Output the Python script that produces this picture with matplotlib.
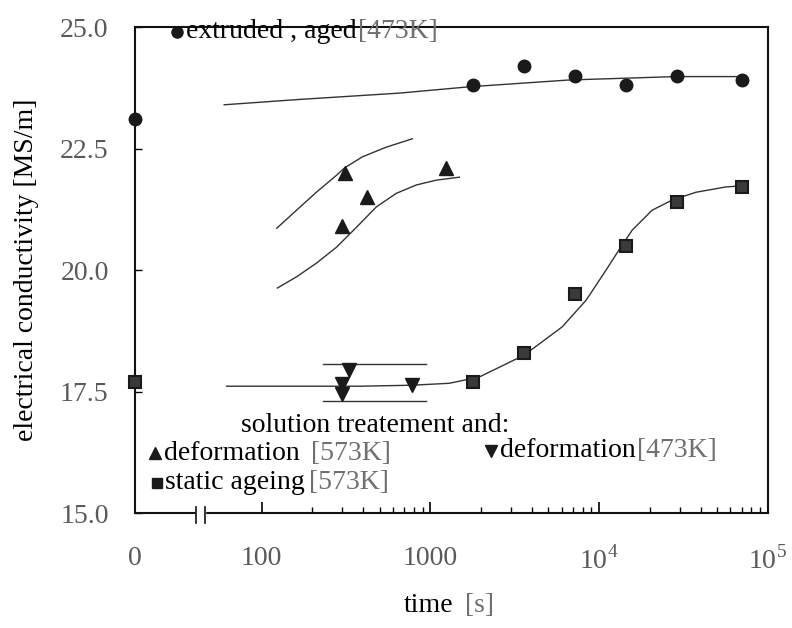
import numpy as np
import matplotlib
matplotlib.use("Agg")
import matplotlib.pyplot as plt
from matplotlib.ticker import FixedLocator, FixedFormatter

plt.rcParams['font.family'] = ['Liberation Serif', 'DejaVu Serif']
plt.rcParams['mathtext.fontset'] = 'custom'
plt.rcParams['mathtext.rm'] = 'Liberation Serif'

# ---- data (time in s, conductivity in MS/m) ----
t_ext = [0, 1800, 3600, 7200, 14400, 28800, 70000]
c_ext = [23.1, 23.8, 24.2, 24.0, 23.8, 24.0, 23.9]
fit_ext_t = [60, 168, 656, 1700, 6640, 28600, 67300]
fit_ext_c = [23.40, 23.51, 23.64, 23.77, 23.91, 23.98, 23.98]

t_static = [0, 1800, 3600, 7200, 14400, 28800, 70000]
c_static = [17.7, 17.7, 18.3, 19.5, 20.5, 21.4, 21.7]
fit_static_t = [62, 168, 380, 773, 1294, 1950, 3600, 6040, 8380, 11000,
                13100, 15700, 20600, 27100, 37500, 56400, 69200]
fit_static_c = [17.61, 17.61, 17.61, 17.63, 17.67, 17.80, 18.25, 18.83, 19.38,
                20.00, 20.41, 20.82, 21.23, 21.44, 21.60, 21.71, 21.73]

t_def573 = [310, 420, 300, 1230]
c_def573 = [22.0, 21.5, 20.9, 22.1]
upper573_t = [123, 161, 211, 278, 310, 396, 550, 782]
upper573_c = [20.86, 21.23, 21.60, 21.95, 22.10, 22.33, 22.53, 22.70]
lower573_t = [124, 161, 211, 278, 365, 479, 630, 826, 1086, 1486]
lower573_c = [19.63, 19.86, 20.14, 20.47, 20.88, 21.30, 21.58, 21.75, 21.85, 21.91]

t_def473 = [330, 300, 300, 780]
c_def473 = [17.95, 17.65, 17.45, 17.63]
band473_t = [230, 940]
band473_hi = [18.07, 18.07]
band473_lo = [17.30, 17.30]

xticks = [0, 100, 1000, 1e4, 1e5]
xticklabels = ['0', '100', '1000', '$10^4$', '$10^5$']
xminor = [k * 10 ** e for e in (2, 3, 4) for k in range(2, 10)]
yticks = [15.0, 17.5, 20.0, 22.5, 25.0]

# ---- broken time axis: linear near 0, log above the break ----
TB = 43.0
U0 = 1.25
LB = np.log10(TB)


def fwd(t):
    t = np.asarray(t, float)
    lin = U0 + (LB - U0) * t / TB
    lg = np.log10(np.maximum(t, TB))
    return np.where(t < TB, lin, lg)


def inv(u):
    u = np.asarray(u, float)
    lin = (u - U0) / (LB - U0) * TB
    lg = 10 ** np.clip(u, LB, 12)
    return np.where(u < LB, lin, lg)


ink = '#1a1a1a'
gray = '#707070'
fs = 20

fig = plt.figure(figsize=(7.92, 6.28), dpi=100)
ax = fig.add_axes([0.1705, 0.183, 0.799, 0.774])
ax.set_xscale('function', functions=(fwd, inv))
ax.set_xlim(0, 1e5)
ax.set_ylim(15, 25)

lw = 1.0
ax.plot(fit_ext_t, fit_ext_c, color='#333333', lw=lw)
ax.plot(fit_static_t, fit_static_c, color='#333333', lw=lw)
ax.plot(upper573_t, upper573_c, color='#333333', lw=lw)
ax.plot(lower573_t, lower573_c, color='#333333', lw=lw)
ax.plot(band473_t, band473_hi, color='#333333', lw=lw)
ax.plot(band473_t, band473_lo, color='#333333', lw=lw)

ax.plot(t_ext, c_ext, 'o', ms=9, color=ink, clip_on=False, zorder=5)
ax.plot(t_static, c_static, 's', ms=9, color='#3a3a3a', mec=ink, mew=1.5,
        clip_on=False, zorder=5)
ax.plot(t_def573, c_def573, '^', ms=10, color=ink, zorder=5)
ax.plot(t_def473, c_def473, 'v', ms=10, color=ink, zorder=5)

# axes styling
for s in ax.spines.values():
    s.set_linewidth(1.5)
    s.set_color('#111111')
ax.xaxis.set_major_locator(FixedLocator(xticks))
ax.xaxis.set_major_formatter(FixedFormatter(xticklabels))
ax.xaxis.set_minor_locator(FixedLocator(xminor))
ax.set_yticks(yticks)
ax.set_yticklabels(['%.1f' % v for v in yticks])
ax.tick_params(axis='x', which='major', direction='in', length=8, width=1.2,
               pad=24, labelsize=fs, labelcolor='#5a5a5a')
ax.tick_params(axis='x', which='minor', direction='in', length=4, width=1.0)
ax.tick_params(axis='y', which='major', direction='in', length=5, width=1.0,
               pad=19, labelsize=fs, labelcolor='#5a5a5a')

ax.set_ylabel('electrical conductivity [MS/m]', fontsize=fs, color='black')
ax.yaxis.set_label_coords(-0.152, 0.5)

# axis break marks
xb = (fwd(TB) - fwd(0)) / (fwd(1e5) - fwd(0))
ax.plot([xb - 0.004, xb + 0.006], [0, 0], color='white', lw=2.5,
        transform=ax.transAxes, clip_on=False, zorder=6)
for dx in (-0.006, 0.008):
    ax.plot([xb + dx, xb + dx], [-0.02, 0.012], color='#111111', lw=1.2,
            transform=ax.transAxes, clip_on=False, zorder=7)

# x label: "time [s]"
t1 = ax.text(0.425, -0.19, 'time', transform=ax.transAxes, fontsize=fs,
             va='center', ha='left', color='black')
ax.annotate('[s]', xy=(1, 0), xycoords=t1, xytext=(8, 0),
            textcoords='offset points', fontsize=fs, va='bottom', color=gray)


# in-plot key texts
def key(x, y, marker, label, tag, gap=4):
    ax.plot([x], [y], marker, ms=8 if marker != 's' else 7, color=ink,
            transform=ax.transAxes, clip_on=False)
    t = ax.text(x + 0.014, y, label, transform=ax.transAxes, fontsize=fs,
                va='center', ha='left', color='black')
    ax.annotate(tag, xy=(1, 0), xycoords=t, xytext=(gap, 0),
                textcoords='offset points', fontsize=fs, va='bottom', color=gray)


key(0.066, 0.99, 'o', 'extruded , aged', '[473K]', gap=1)
ax.text(0.168, 0.181, 'solution treatement and:', transform=ax.transAxes,
        fontsize=fs, va='center', ha='left', color='black')
key(0.032, 0.123, '^', 'deformation', '[573K]', gap=8)
key(0.563, 0.128, 'v', 'deformation', '[473K]', gap=1)
key(0.034, 0.062, 's', 'static ageing', '[573K]', gap=3)

fig.savefig('out.png', dpi=100)
